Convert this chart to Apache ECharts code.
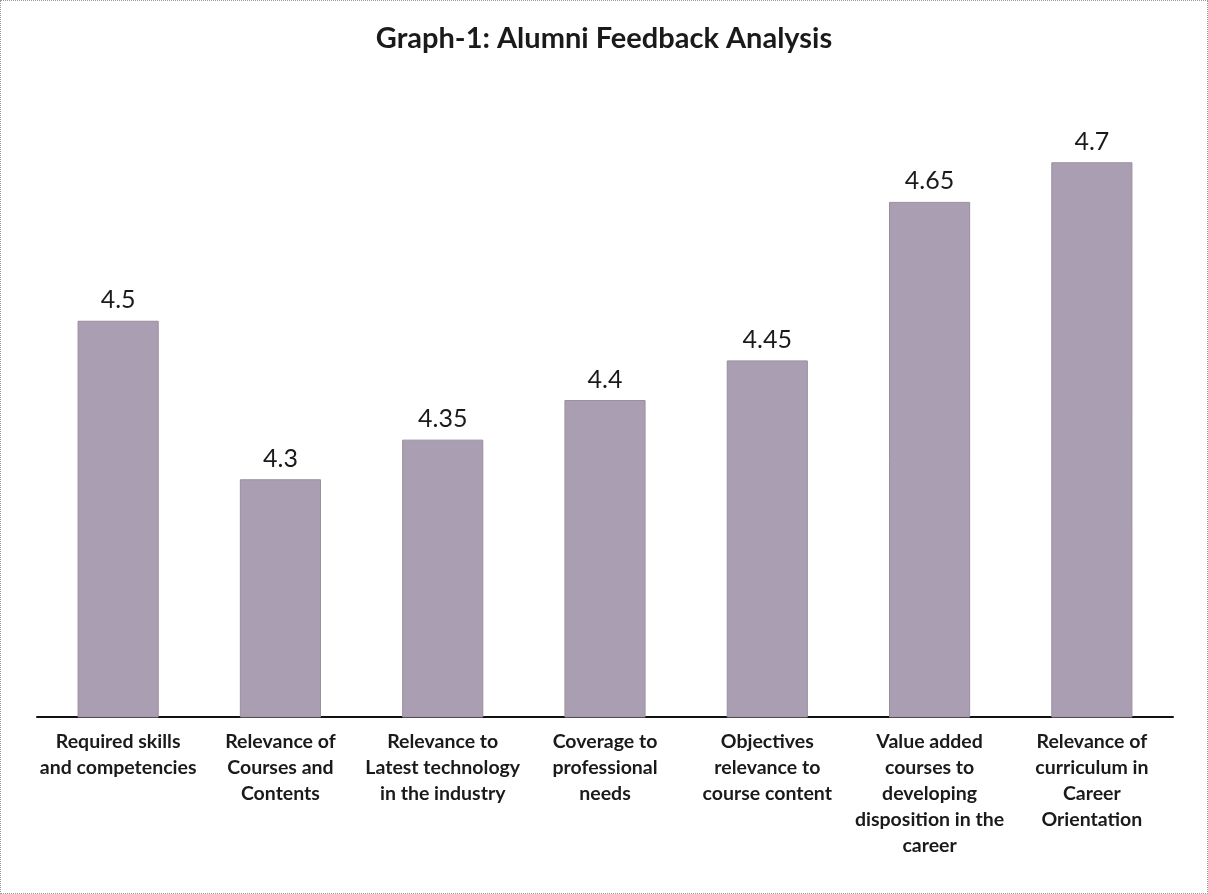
<!DOCTYPE html>
<html>
<head>
<meta charset="utf-8">
<script src="https://cdn.jsdelivr.net/npm/echarts@6/dist/echarts.min.js"></script>
<style>
html,body{margin:0;padding:0;background:#fff;}
#c{width:1208px;height:894px;box-sizing:border-box;border:1px dotted #999;}
</style>
</head>
<body>
<div id="c"></div>
<script>
const title = 'Graph-1: Alumni Feedback Analysis';
const categories = [
  'Required skills\nand competencies',
  'Relevance of\nCourses and\nContents',
  'Relevance to\nLatest technology\nin the industry',
  'Coverage to\nprofessional\nneeds',
  'Objectives\nrelevance to\ncourse content',
  'Value added\ncourses to\ndeveloping\ndisposition in the\ncareer',
  'Relevance of\ncurriculum in\nCareer\nOrientation'
];
const values = [4.5, 4.3, 4.35, 4.4, 4.45, 4.65, 4.7];

const chart = echarts.init(document.getElementById('c'));
chart.setOption({
  backgroundColor: '#ffffff',
  animation: false,
  title: {
    text: title,
    left: 'center',
    top: 18,
    textStyle: {fontFamily: 'Lato', fontWeight: 'bold', fontSize: 29, color: '#1a1a1a'}
  },
  grid: {left: 36, right: 34, top: 82, bottom: 176},
  xAxis: {
    type: 'category',
    data: categories,
    axisLine: {lineStyle: {color: '#111', width: 2}},
    axisTick: {show: false},
    axisLabel: {
      interval: 0,
      margin: 12,
      fontFamily: 'Lato',
      fontWeight: 'bold',
      fontSize: 19.5,
      lineHeight: 26,
      color: '#1a1a1a',
      align: 'center'
    }
  },
  yAxis: {
    type: 'value',
    min: 4.0,
    max: 4.8,
    show: false
  },
  series: [{
    type: 'bar',
    data: values,
    barWidth: '50%',
    itemStyle: {color: '#aa9eb2', borderColor: '#9a8e9f', borderWidth: 1},
    label: {
      show: true,
      position: 'top',
      distance: 8,
      fontFamily: 'Lato',
      fontSize: 25,
      color: '#1a1a1a'
    }
  }]
});
</script>
</body>
</html>
